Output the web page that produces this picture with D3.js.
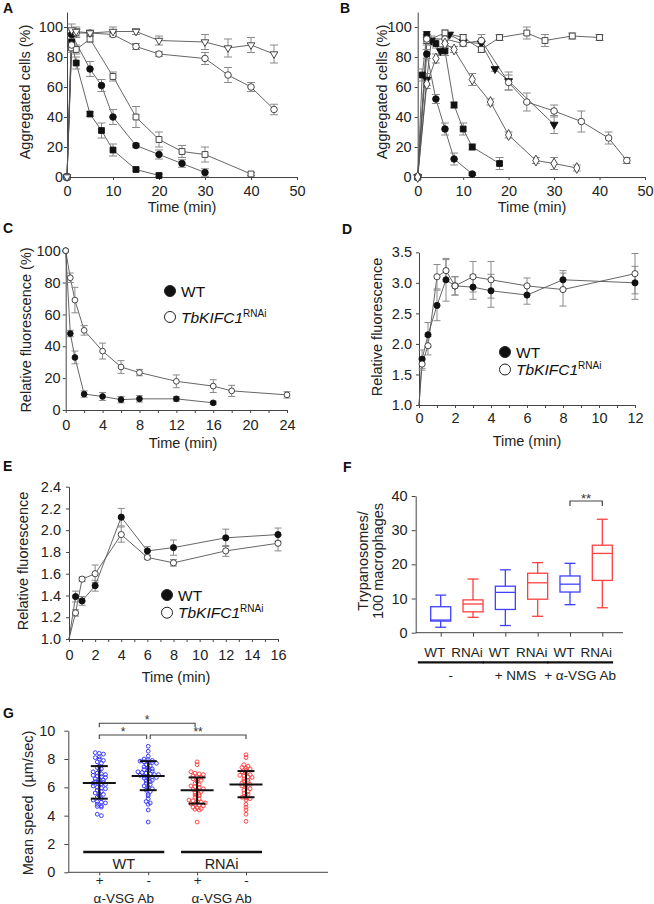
<!DOCTYPE html>
<html>
<head>
<meta charset="utf-8">
<script src="https://cdn.jsdelivr.net/npm/d3@7"></script>
<style>
  body { margin: 0; background: #fff; }
  svg { display: block; }
</style>
</head>
<body>
<script>
const W = 654, H = 904;
const FONT = '"Liberation Sans", Arial, Helvetica, sans-serif';

// ---------- data ----------
// A and B: [time (min), aggregated cells %, error]
const A_filledSquare = [[0,0,0],[1,90,4],[2,76,4],[5,42,1.5],[7.5,31,5],[10,18,4],[15,5,1],[20,1,1]];
const A_filledCircle = [[0,0,0],[1,95,3],[5,72,5],[7.5,61,4],[10,40,5],[15,21,1.5],[20,15,3],[25,9,2.5],[30,3,2.5]];
const A_openSquare = [[0,0,0],[1,86,3],[2,85,3],[5,92,2],[10,67,3],[15,40,7],[20,25,5],[25,17,4],[30,15,5],[40,2,1]];
const A_openCircle = [[0,0,0],[1,88,3],[2,96,3],[5,96,1.5],[10,95,1.5],[15,87,2],[20,82,1.5],[30,79,4],[35,68,5],[40,60,3],[45,45,3.5]];
const A_openTriangle = [[0,0,0],[1,98,4],[2,97,3],[5,96,2],[10,97,3],[15,97,2],[20,91,3],[30,90,5],[35,86,6],[40,88,5],[45,82,6]];

const B_filledCircle = [[0,0,0],[2,82,3],[4,52,3],[6,32,4],[8,12,4],[12,2,1]];
const B_filledSquare = [[0,0,0],[1,68,4],[2,95,2],[4,89,3],[6,84,3],[8,48,2],[10,32,4],[12,20,2],[18,9,4]];
const B_filledTriangle = [[0,0,0],[2,65,4],[3,91,3],[5,84,3],[7,95,1.5],[10,90,2],[14,89,2],[17,72,1.5],[20,64,6],[30,35,6]];
const B_openSquare = [[0,0,0],[2,91,3],[6,96,2],[10,93,2],[14,85,2],[18,93,2],[24,96,4],[28,91,4],[34,94,2],[40,93,2]];
const B_openCircle = [[0,0,0],[2,92,3],[6,92,3],[10,89,2],[14,91,4],[20,63,5],[24,50,6],[30,44,4],[36,37,7],[42,26,4],[46,11,2]];
const B_openDiamond = [[0,0,0],[2,62,3],[4,79,3],[6,89,3],[8,85,2],[12,65,4],[16,50,2],[20,28,2],[26,11,2],[30,9,4],[35,6,2]];

// C: relative fluorescence (%)
const C_wt = [[0,100,0],[0.5,48,2],[1,33,4],[2,10,2],[4,8.5,2.5],[6,6.5,2],[8,7,2],[12,7,1.5],[16,4.5,1]];
const C_rnai = [[0,100,0],[0.5,83,3],[1,69,8],[2,50,3],[4,37,5],[6,27,4],[8,23.5,2],[12,18,4],[16,15,4],[18,12,3.5],[24,9.5,2]];

// D: relative fluorescence
const D_wt = [[0,1,0],[0.17,1.75,0.15],[0.5,2.15,0.2],[1,2.63,0.25],[1.5,3.05,0.35],[2,2.95,0.15],[3,2.93,0.2],[4,2.87,0.27],[6,2.8,0.15],[8,3.05,0.15],[12,3.0,0.27]];
const D_rnai = [[0,1,0],[0.17,1.67,0.1],[0.5,1.97,0.15],[1,3.1,0.2],[1.5,3.2,0.18],[2,2.95,0.15],[3,3.1,0.25],[4,3.05,0.3],[6,2.95,0.13],[8,2.89,0.27],[12,3.15,0.33]];

// E: relative fluorescence
const E_wt = [[0,1,0],[0.5,1.39,0.05],[1,1.35,0.04],[2,1.49,0.05],[4,2.12,0.08],[6,1.81,0.04],[8,1.84,0.07],[12,1.93,0.08],[16,1.96,0.06]];
const E_rnai = [[0,1,0],[0.5,1.24,0.03],[1,1.55,0.02],[2,1.6,0.08],[4,1.96,0.07],[6,1.75,0.02],[8,1.7,0.03],[12,1.81,0.05],[16,1.88,0.07]];

// F: box plots, trypanosomes / 100 macrophages
const F_groups = ["WT", "RNAi", "WT", "RNAi", "WT", "RNAi"];
const F_treatments = ["-", "+ NMS", "+ \u03b1-VSG Ab"];
const F_min = [1.6, 4.5, 2.1, 4.8, 8.2, 7.3];
const F_q1 = [3.4, 6.1, 6.8, 9.8, 11.9, 15.3];
const F_med = [3.7, 8.4, 11.8, 14.6, 14.2, 23.2];
const F_q3 = [7.6, 9.6, 13.6, 17.4, 16.6, 25.6];
const F_max = [11.0, 15.7, 18.4, 20.5, 20.3, 33.2];

// G: mean speed (um/sec), individual cells
const G_conditions = ["+", "-", "+", "-"];
const G_strains = ["WT", "RNAi"];
const G_wtPlus = [8.45,8.4,8.35,8.15,8.1,8.0,7.9,7.8,7.7,7.5,7.4,7.3,7.2,7.1,7.0,6.95,6.9,6.85,6.8,6.75,6.7,6.6,6.55,6.5,6.4,6.4,6.35,6.3,6.3,6.25,6.2,6.1,6.0,5.95,5.9,5.8,5.7,5.6,5.55,5.5,5.4,5.3,5.2,5.1,5.0,4.95,4.9,4.8,4.7,4.65,4.6,4.1,4.0];
const G_wtMinus = [8.9,8.55,8.2,8.0,7.95,7.9,7.85,7.8,7.8,7.75,7.7,7.6,7.5,7.45,7.4,7.3,7.25,7.2,7.15,7.1,7.05,7.0,6.95,6.9,6.9,6.85,6.8,6.8,6.75,6.7,6.65,6.6,6.5,6.45,6.4,6.3,6.2,6.1,6.0,5.9,5.8,5.7,5.5,5.4,5.2,5.0,4.9,4.8,4.4,3.55];
const G_rnaiPlus = [7.8,7.6,7.1,7.0,6.95,6.9,6.8,6.75,6.7,6.6,6.55,6.5,6.4,6.3,6.2,6.1,6.05,6.0,5.9,5.85,5.8,5.7,5.6,5.5,5.45,5.4,5.3,5.2,5.1,5.05,5.0,4.95,4.9,4.85,4.8,4.75,4.7,4.6,4.55,4.5,4.45,4.4,3.55];
const G_rnaiMinus = [8.3,8.1,7.6,7.5,7.4,7.35,7.3,7.2,7.1,7.0,6.9,6.85,6.8,6.75,6.7,6.6,6.5,6.45,6.4,6.3,6.2,6.2,6.1,6.0,5.9,5.8,5.7,5.6,5.5,5.4,5.3,5.25,5.2,5.1,4.8,4.6,4.4,4.1,3.6];
const G_mean = [6.3, 6.8, 5.8, 6.2];
const G_sdLow = [5.2, 5.8, 4.85, 5.3];
const G_sdHigh = [7.5, 7.85, 6.7, 7.15];

// ---------- drawing ----------
const svg = d3.select("body").append("svg")
  .attr("width", W).attr("height", H)
  .style("font-family", FONT);

const symbolTypes = {
  fc: { type: d3.symbolCircle, fill: true },
  oc: { type: d3.symbolCircle, fill: false },
  fs: { type: d3.symbolSquare, fill: true },
  os: { type: d3.symbolSquare, fill: false },
  ft: { type: d3.symbolTriangle, fill: true, rot: 180, k: 0.8 },
  ot: { type: d3.symbolTriangle, fill: false, rot: 180, k: 0.75 },
  od: { type: d3.symbolDiamond, fill: false }
};

function styleAxis(a, fs) {
  a.select(".domain").attr("stroke", "#444");
  a.selectAll(".tick line").attr("stroke", "#444");
  a.selectAll("text").attr("font-size", fs || 14.5).attr("fill", "#222").attr("font-family", FONT);
}

function panelLetter(t, x, y) {
  svg.append("text").attr("x", x).attr("y", y).text(t)
    .attr("font-size", 14).attr("font-weight", "bold").attr("fill", "#111");
}

function yTitle(lines, x, y) {
  const t = svg.append("text")
    .attr("transform", `translate(${x},${y}) rotate(-90)`)
    .attr("text-anchor", "middle").attr("font-size", 14.5).attr("fill", "#222")
    .style("white-space", "pre");
  lines.forEach((l, i) => t.append("tspan").attr("x", 0).attr("dy", i ? "1.05em" : 0).text(l));
}

function xTitle(text, x, y) {
  svg.append("text").attr("x", x).attr("y", y).attr("text-anchor", "middle")
    .attr("font-size", 14.5).attr("fill", "#222").text(text);
}

function linePanel(c) {
  const x = d3.scaleLinear().domain(c.xDomain).range(c.xRange);
  const y = d3.scaleLinear().domain(c.yDomain).range(c.yRange);
  const g = svg.append("g");

  const xa = g.append("g")
    .attr("transform", `translate(0,${c.yRange[0]})`)
    .call(d3.axisBottom(x).tickValues(c.xTickAll).tickSize(3).tickSizeOuter(0).tickPadding(c.xPad)
      .tickFormat(d => c.xLabels.includes(d) ? d : ""));
  styleAxis(xa);
  const ya = g.append("g")
    .attr("transform", `translate(${c.xRange[0]},0)`)
    .call(d3.axisLeft(y).tickValues(c.yTicks).tickSize(3).tickSizeOuter(0).tickPadding(c.yPad)
      .tickFormat(c.yFmt));
  styleAxis(ya);

  const line = d3.line().x(d => x(d[0])).y(d => y(d[1]));
  c.series.forEach(s => {
    g.append("path").datum(s.data).attr("d", line)
      .attr("fill", "none").attr("stroke", "#555").attr("stroke-width", 0.9);
  });

  c.series.forEach(s => {
    const eb = g.append("g").attr("stroke", "#8a8a8a").attr("stroke-width", 1);
    s.data.filter(d => d[2] > 0).forEach(d => {
      const xx = x(d[0]), y1 = y(d[1] - d[2]), y2 = y(d[1] + d[2]);
      eb.append("line").attr("x1", xx).attr("x2", xx).attr("y1", y1).attr("y2", y2);
      eb.append("line").attr("x1", xx - c.cap).attr("x2", xx + c.cap).attr("y1", y1).attr("y2", y1);
      eb.append("line").attr("x1", xx - c.cap).attr("x2", xx + c.cap).attr("y1", y2).attr("y2", y2);
    });
  });

  c.series.forEach(s => {
    const st = symbolTypes[s.sym];
    const pts = c.skipStart ? s.data.slice(1) : s.data;
    g.append("g").selectAll("path").data(pts).join("path")
      .attr("d", d3.symbol().type(st.type).size(c.symSize * (st.k || 1)))
      .attr("transform", d => `translate(${x(d[0])},${y(d[1])}) rotate(${st.rot || 0})`)
      .attr("fill", st.fill ? "#111" : "#fff")
      .attr("stroke", st.fill ? "#111" : "#333")
      .attr("stroke-width", 0.9);
  });

  if (c.legend) {
    const L = c.legend;
    [["fc", "WT"], ["oc", "TbKIFC1"]].forEach(([k, lab], i) => {
      const cy = L.y + i * L.dy;
      const st = symbolTypes[k];
      svg.append("path").attr("d", d3.symbol().type(st.type).size(95)())
        .attr("transform", `translate(${L.x},${cy})`)
        .attr("fill", st.fill ? "#111" : "#fff").attr("stroke", "#222").attr("stroke-width", 1);
      const t = svg.append("text").attr("x", L.x + 11).attr("y", cy + 5.5)
        .attr("font-size", 15.5).attr("fill", "#111");
      if (i === 0) t.text(lab);
      else {
        t.append("tspan").attr("font-style", "italic").text(lab);
        t.append("tspan").attr("font-size", 10).attr("dy", -6).text("RNAi");
      }
    });
  }
}

// ---- A ----
panelLetter("A", 3, 13);
linePanel({
  xDomain: [0, 50], xRange: [67, 297], yDomain: [0, 110], yRange: [177, 12],
  xTickAll: [0, 10, 20, 30, 40, 50], xLabels: [0, 10, 20, 30, 40, 50], xPad: 6,
  yTicks: [0, 20, 40, 60, 80, 100], yPad: 1, yFmt: d3.format("d"),
  cap: 4, symSize: 34,
  series: [
    { sym: "fs", data: A_filledSquare }, { sym: "fc", data: A_filledCircle },
    { sym: "os", data: A_openSquare }, { sym: "oc", data: A_openCircle },
    { sym: "ot", data: A_openTriangle }
  ]
});
yTitle(["Aggregated cells (%)"], 30, 92);
xTitle("Time (min)", 182, 212);

// ---- B ----
panelLetter("B", 340, 13);
linePanel({
  xDomain: [0, 50], xRange: [417.7, 645], yDomain: [0, 110], yRange: [177, 12],
  xTickAll: [0, 10, 20, 30, 40, 50], xLabels: [0, 10, 20, 30, 40, 50], xPad: 6,
  yTicks: [0, 20, 40, 60, 80, 100], yPad: 3, yFmt: d3.format("d"),
  cap: 4, symSize: 34,
  series: [
    { sym: "fc", data: B_filledCircle }, { sym: "fs", data: B_filledSquare },
    { sym: "ft", data: B_filledTriangle }, { sym: "os", data: B_openSquare },
    { sym: "oc", data: B_openCircle }, { sym: "od", data: B_openDiamond }
  ]
});
yTitle(["Aggregated cells (%)"], 387, 92);
xTitle("Time (min)", 532, 212);

// ---- C ----
panelLetter("C", 3, 233);
linePanel({
  xDomain: [0, 24], xRange: [65.7, 287], yDomain: [0, 100], yRange: [410, 250.7],
  xTickAll: d3.range(0, 25, 2), xLabels: [0, 4, 8, 12, 16, 20, 24], xPad: 7,
  yTicks: [0, 20, 40, 60, 80, 100], yPad: 2, yFmt: d3.format("d"),
  cap: 3.5, symSize: 26,
  series: [{ sym: "fc", data: C_wt }, { sym: "oc", data: C_rnai }],
  legend: { x: 170, y: 291, dy: 26 }
});
yTitle(["Relative fluorescence (%)"], 31, 330);
xTitle("Time (min)", 183, 448);

// ---- D ----
panelLetter("D", 342, 234);
linePanel({
  xDomain: [0, 12], xRange: [419, 635], yDomain: [1, 3.5], yRange: [405, 252.3],
  xTickAll: d3.range(0, 13, 1), xLabels: [0, 2, 4, 6, 8, 10, 12], xPad: 5,
  yTicks: [1, 1.5, 2, 2.5, 3, 3.5], yPad: 4, yFmt: d3.format(".1f"),
  cap: 3.5, symSize: 30, skipStart: true,
  series: [{ sym: "fc", data: D_wt }, { sym: "oc", data: D_rnai }],
  legend: { x: 505, y: 352, dy: 17.5 }
});
yTitle(["Relative fluorescence"], 382, 327);
xTitle("Time (min)", 527, 446);

// ---- E ----
panelLetter("E", 3, 471);
linePanel({
  xDomain: [0, 16], xRange: [69, 278], yDomain: [1, 2.4], yRange: [639, 486.7],
  xTickAll: d3.range(0, 17, 1), xLabels: [0, 2, 4, 6, 8, 10, 12, 14, 16], xPad: 8,
  yTicks: [1, 1.2, 1.4, 1.6, 1.8, 2.0, 2.2, 2.4], yPad: 5, yFmt: d3.format(".1f"),
  cap: 3.5, symSize: 30, skipStart: true,
  series: [{ sym: "fc", data: E_wt }, { sym: "oc", data: E_rnai }],
  legend: { x: 167, y: 595, dy: 17.7 }
});
yTitle(["Relative fluorescence"], 28, 561);
xTitle("Time (min)", 176, 682);

// ---- F ----
panelLetter("F", 343, 472);
(function () {
  const x = d3.scalePoint().domain(d3.range(F_groups.length)).range([440.7, 602.3]);
  const y = d3.scaleLinear().domain([0, 40]).range([632.7, 496]);
  const g = svg.append("g");
  const ya = g.append("g").attr("transform", "translate(415.7,0)")
    .call(d3.axisLeft(y).tickValues([0, 10, 20, 30, 40]).tickSize(4).tickSizeOuter(0).tickPadding(4));
  styleAxis(ya);
  const xa = g.append("g").attr("transform", "translate(0,632.7)")
    .call(d3.axisBottom(x).tickSize(4).tickSizeOuter(0).tickFormat(""));
  xa.select(".domain").attr("d", "M415.7,0H623");
  styleAxis(xa);

  const colors = F_groups.map(d => d === "WT" ? "#4141ff" : "#ff4040");
  const bw = 10, cw = 5.5;
  F_groups.forEach((grp, i) => {
    const cx = x(i), col = colors[i];
    const b = g.append("g").attr("stroke", col).attr("stroke-width", 1.3).attr("fill", "none");
    b.append("line").attr("x1", cx).attr("x2", cx).attr("y1", y(F_max[i])).attr("y2", y(F_q3[i]));
    b.append("line").attr("x1", cx).attr("x2", cx).attr("y1", y(F_q1[i])).attr("y2", y(F_min[i]));
    b.append("line").attr("x1", cx - cw).attr("x2", cx + cw).attr("y1", y(F_max[i])).attr("y2", y(F_max[i]));
    b.append("line").attr("x1", cx - cw).attr("x2", cx + cw).attr("y1", y(F_min[i])).attr("y2", y(F_min[i]));
    b.append("rect").attr("x", cx - bw).attr("width", 2 * bw)
      .attr("y", y(F_q3[i])).attr("height", y(F_q1[i]) - y(F_q3[i]));
    b.append("line").attr("x1", cx - bw).attr("x2", cx + bw).attr("y1", y(F_med[i])).attr("y2", y(F_med[i]));
    svg.append("text").attr("x", cx - 6).attr("y", 657).attr("text-anchor", "middle")
      .attr("font-size", 13.5).attr("fill", "#222").text(grp);
  });
  F_treatments.forEach((t, j) => {
    const mid = (x(2 * j) + x(2 * j + 1)) / 2 - 6;
    svg.append("line").attr("x1", mid - 33).attr("x2", mid + 33).attr("y1", 662.3).attr("y2", 662.3)
      .attr("stroke", "#111").attr("stroke-width", 2.2);
    svg.append("text").attr("x", mid).attr("y", 680).attr("text-anchor", "middle")
      .attr("font-size", 13.5).attr("fill", "#222").text(t);
  });
  // significance bracket
  const bx1 = x(4), bx2 = x(5);
  svg.append("path").attr("d", `M${bx1},506V501H${bx2}V506`)
    .attr("fill", "none").attr("stroke", "#444").attr("stroke-width", 1.2);
  svg.append("text").attr("x", (bx1 + bx2) / 2).attr("y", 503).attr("text-anchor", "middle")
    .attr("font-size", 13).attr("fill", "#333").text("**");
  yTitle(["Trypanosomes/", "100 macrophages"], 368, 561);
})();

// ---- G ----
panelLetter("G", 3, 718);
(function () {
  const x = d3.scalePoint().domain(d3.range(G_conditions.length)).range([99.3, 246]);
  const y = d3.scaleLinear().domain([0, 10]).range([872.3, 730.7]);
  const g = svg.append("g");
  const ya = g.append("g").attr("transform", "translate(68.3,0)")
    .call(d3.axisLeft(y).tickValues([0, 2, 4, 6, 8, 10]).tickSize(4).tickSizeOuter(0).tickPadding(9));
  styleAxis(ya);
  const xa = g.append("g").attr("transform", "translate(0,872.3)")
    .call(d3.axisBottom(x).tickSize(3).tickSizeOuter(0).tickPadding(0)
      .tickFormat(i => G_conditions[i]));
  xa.select(".domain").attr("d", "M68.3,0H328");
  styleAxis(xa, 13.5);

  const sets = [G_wtPlus, G_wtMinus, G_rnaiPlus, G_rnaiMinus];
  const cols = ["#3c3cff", "#3c3cff", "#ff4646", "#ff4646"];
  const binW = 0.2, step = 4.1;
  sets.forEach((vals, i) => {
    const bins = d3.group(vals, v => Math.round(v / binW));
    const pts = [];
    bins.forEach(arr => {
      const n = arr.length;
      arr.forEach((v, k) => pts.push([x(i) + (k - (n - 1) / 2) * step, y(v)]));
    });
    g.append("g").selectAll("circle").data(pts).join("circle")
      .attr("cx", d => d[0]).attr("cy", d => d[1]).attr("r", 1.9)
      .attr("fill", "none").attr("stroke", cols[i]).attr("stroke-width", 1);

    const m = g.append("g").attr("stroke", "#111").attr("stroke-width", 2);
    const cx = x(i);
    m.append("line").attr("x1", cx - 16.5).attr("x2", cx + 16.5).attr("y1", y(G_mean[i])).attr("y2", y(G_mean[i]));
    m.append("line").attr("x1", cx).attr("x2", cx).attr("y1", y(G_sdLow[i])).attr("y2", y(G_sdHigh[i]));
    m.append("line").attr("x1", cx - 8.5).attr("x2", cx + 8.5).attr("y1", y(G_sdLow[i])).attr("y2", y(G_sdLow[i]));
    m.append("line").attr("x1", cx - 8.5).attr("x2", cx + 8.5).attr("y1", y(G_sdHigh[i])).attr("y2", y(G_sdHigh[i]));
  });

  // strain bars
  G_strains.forEach((s, j) => {
    const mid = (x(2 * j) + x(2 * j + 1)) / 2;
    svg.append("line").attr("x1", mid - 40.5).attr("x2", mid + 40.5).attr("y1", 852).attr("y2", 852)
      .attr("stroke", "#111").attr("stroke-width", 2.4);
    svg.append("text").attr("x", mid).attr("y", 868.5).attr("text-anchor", "middle")
      .attr("font-size", 14.5).attr("fill", "#222").text(s);
    svg.append("text").attr("x", mid).attr("y", 902.5).attr("text-anchor", "middle")
      .attr("font-size", 13.5).attr("fill", "#222").text("\u03b1-VSG Ab");
  });

  // significance brackets
  const br = (x1, x2, yy, label) => {
    svg.append("path").attr("d", `M${x1},${yy + 4}V${yy}H${x2}V${yy + 4}`)
      .attr("fill", "none").attr("stroke", "#444").attr("stroke-width", 1.1);
    svg.append("text").attr("x", (x1 + x2) / 2).attr("y", yy + 1).attr("text-anchor", "middle")
      .attr("font-size", 12).attr("fill", "#333").text(label);
  };
  br(x(0), x(2) - 2, 723.3, "*");
  br(x(0), x(1) - 1.5, 735, "*");
  br(x(1) + 2, x(3), 735, "**");

  yTitle(["Mean speed  (\u00b5m/sec)"], 33, 803);
})();
</script>
</body>
</html>
